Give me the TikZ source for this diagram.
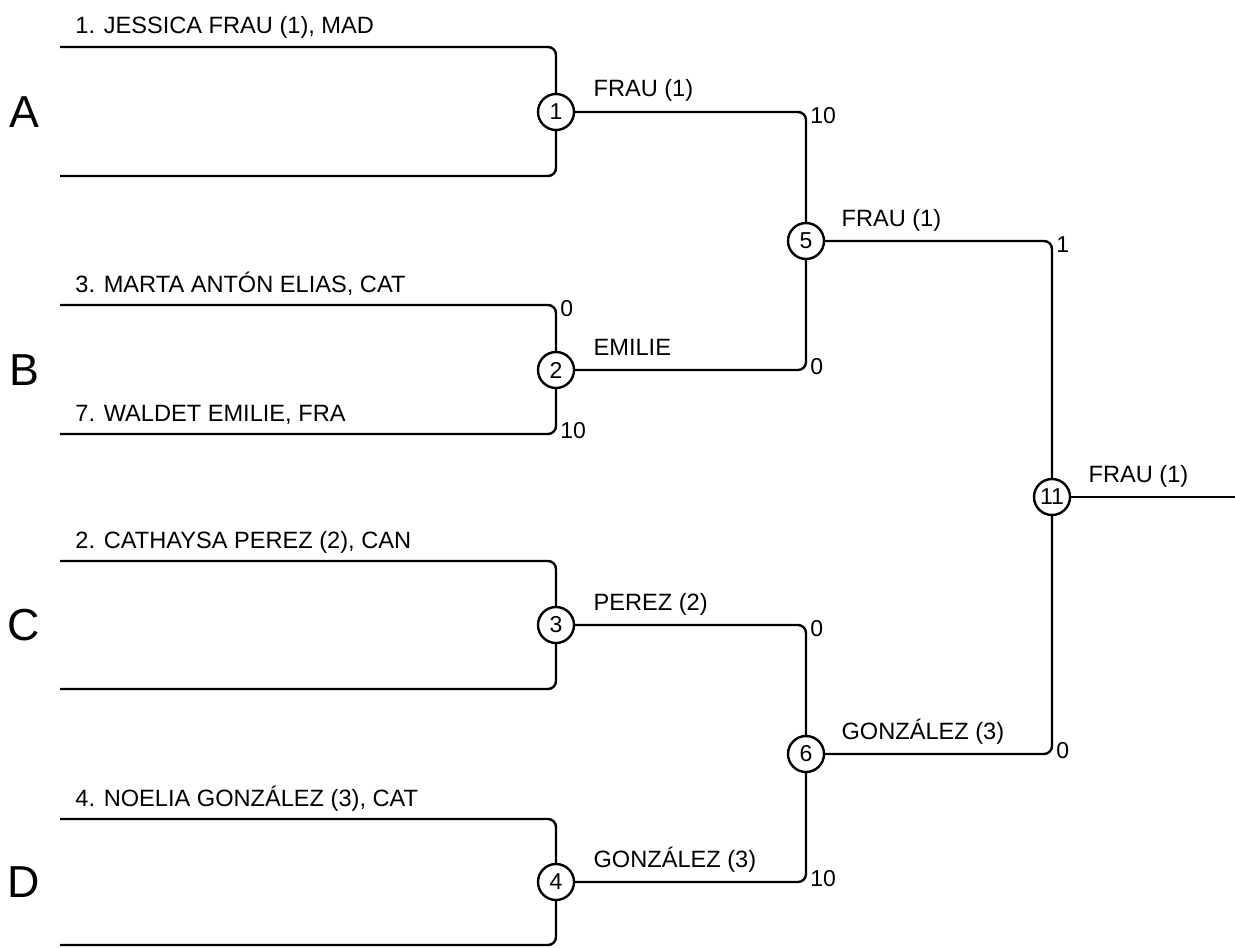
\documentclass[tikz,border=0pt]{standalone}
\usepackage{fontspec}
\setmainfont{Liberation Sans}
\usetikzlibrary{positioning}

\begin{document}
\begin{tikzpicture}[
    x=0.5pt, y=-0.5pt,
    bracket/.style={line width=1.2pt, rounded corners=4pt},
    matchnode/.style={
      circle,
      draw,
      fill=white,
      line width=1.2pt,
      minimum size=18pt,
      inner sep=0pt,
      font=\fontsize{11.5}{13}\selectfont
    },
    playerlabel/.style={anchor=base west, inner sep=0pt, font=\fontsize{11.8}{14}\selectfont},
    winnerlabel/.style={anchor=base west, inner sep=0pt, font=\fontsize{11.8}{14}\selectfont},
    scorelabel/.style={anchor=west, inner sep=1pt, xshift=1pt, font=\fontsize{11.5}{13}\selectfont},
    grouplabel/.style={inner sep=0pt, font=\fontsize{22.4}{26}\selectfont}
  ]
  \useasboundingbox (0,0) rectangle (1235,947);

  % starts of the player lines
  \coordinate (p1) at (60,47);
  \coordinate (p2) at (60,176);
  \coordinate (p3) at (60,305);
  \coordinate (p4) at (60,434);
  \coordinate (p5) at (60,561);
  \coordinate (p6) at (60,689);
  \coordinate (p7) at (60,819);
  \coordinate (p8) at (60,945);

  % matches
  \node[matchnode] (m1) at (556,112) {1};
  \node[matchnode] (m2) at (556,370) {2};
  \node[matchnode] (m3) at (556,625) {3};
  \node[matchnode] (m4) at (556,882) {4};
  \node[matchnode] (m5) at (806,241) {5};
  \node[matchnode] (m6) at (806,754) {6};
  \node[matchnode] (m11) at (1052,497) {11};
  \coordinate (final) at (1235,497);

  % groups
  \node[grouplabel] (ga) at (24,112) {A};
  \node[grouplabel] (gb) at (24,370) {B};
  \node[grouplabel] (gc) at (24,625) {C};
  \node[grouplabel] (gd) at (24,882) {D};

  % first round
  \draw[bracket] (p1) -| (m1);
  \draw[bracket] (p2) -| (m1);
  \draw[bracket] (p3) -| (m2);
  \draw[bracket] (p4) -| (m2);
  \draw[bracket] (p5) -| (m3);
  \draw[bracket] (p6) -| (m3);
  \draw[bracket] (p7) -| (m4);
  \draw[bracket] (p8) -| (m4);

  % later rounds
  \draw[bracket] (m1) -| (m5);
  \draw[bracket] (m2) -| (m5);
  \draw[bracket] (m3) -| (m6);
  \draw[bracket] (m4) -| (m6);
  \draw[bracket] (m5) -| (m11);
  \draw[bracket] (m6) -| (m11);
  \draw[bracket] (m11) -- (final);

  % players
  \node[playerlabel] (n1) at ([xshift=7.5pt, yshift=6.5pt]p1) {1. JESSICA FRAU (1), MAD};
  \node[playerlabel] (n3) at ([xshift=7.5pt, yshift=6.5pt]p3) {3. MARTA ANTÓN ELIAS, CAT};
  \node[playerlabel] (n4) at ([xshift=7.5pt, yshift=6.5pt]p4) {7. WALDET EMILIE, FRA};
  \node[playerlabel] (n5) at ([xshift=7.5pt, yshift=6.5pt]p5) {2. CATHAYSA PEREZ (2), CAN};
  \node[playerlabel] (n7) at ([xshift=7.5pt, yshift=6.5pt]p7) {4. NOELIA GONZÁLEZ (3), CAT};

  % winners
  \node[winnerlabel] (w1) at ([xshift=9pt, yshift=7.5pt]m1.east) {FRAU (1)};
  \node[winnerlabel] (w2) at ([xshift=9pt, yshift=7.5pt]m2.east) {EMILIE};
  \node[winnerlabel] (w3) at ([xshift=9pt, yshift=7.5pt]m3.east) {PEREZ (2)};
  \node[winnerlabel] (w4) at ([xshift=9pt, yshift=7.5pt]m4.east) {GONZÁLEZ (3)};
  \node[winnerlabel] (w5) at ([xshift=8pt, yshift=7.5pt]m5.east) {FRAU (1)};
  \node[winnerlabel] (w6) at ([xshift=8pt, yshift=7.5pt]m6.east) {GONZÁLEZ (3)};
  \node[winnerlabel] (w11) at ([xshift=8.5pt, yshift=7.5pt]m11.east) {FRAU (1)};

  % scores
  \node[scorelabel, yshift=-1.75pt] (s2a) at (m2 |- p3) {0};
  \node[scorelabel, yshift=1.75pt] (s2b) at (m2 |- p4) {10};
  \node[scorelabel, yshift=-1.75pt] (s5a) at (m5 |- m1) {10};
  \node[scorelabel, yshift=1.75pt] (s5b) at (m5 |- m2) {0};
  \node[scorelabel, yshift=-1.75pt] (s6a) at (m6 |- m3) {0};
  \node[scorelabel, yshift=1.75pt] (s6b) at (m6 |- m4) {10};
  \node[scorelabel, yshift=-1.75pt] (s11a) at (m11 |- m5) {1};
  \node[scorelabel, yshift=1.75pt] (s11b) at (m11 |- m6) {0};
\end{tikzpicture}
\end{document}
